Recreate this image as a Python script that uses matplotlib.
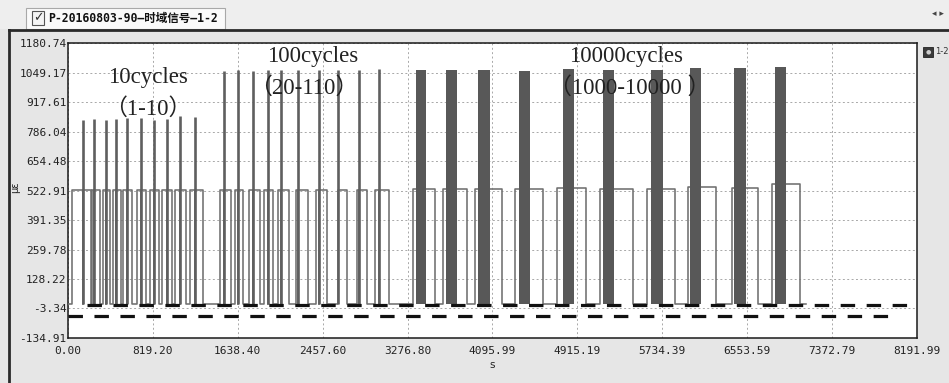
import numpy as np
import matplotlib.pyplot as plt
from matplotlib.patches import Rectangle
from matplotlib.lines import Line2D

# axis ticks as printed by the acquisition software
y_ticks = [-134.91, -3.34, 128.22, 259.78, 391.35, 522.91, 654.48, 786.04, 917.61, 1049.17, 1180.74]
x_ticks = [0.00, 819.20, 1638.40, 2457.60, 3276.80, 4095.99, 4915.19, 5734.39, 6553.59, 7372.79, 8191.99]

base_level = 18
high_level = 523
trace_end = 7120

# 10 cycles group: block rise / spike / fall times (s) and spike peaks (με)
g1_rise = [41, 234, 335, 431, 533, 668, 791, 903, 1032, 1177]
g1_spike = [141, 248, 364, 463, 566, 704, 830, 951, 1081, 1228]
g1_fall = [220, 309, 405, 511, 620, 752, 881, 1003, 1136, 1300]
g1_peak = [838, 840, 838, 840, 845, 845, 838, 840, 855, 850]

# 100 cycles group
g2_rise = [1467, 1611, 1749, 1894, 2023, 2200, 2393, 2602, 2786, 2962]
g2_spike = [1505, 1643, 1782, 1927, 2055, 2216, 2425, 2608, 2805, 3001]
g2_fall = [1573, 1692, 1853, 1981, 2132, 2319, 2502, 2689, 2882, 3097]
g2_peak = [1058, 1060, 1058, 1062, 1060, 1062, 1060, 1062, 1060, 1065]

# 10000 cycles group: block rise, dense band start/end, fall, band top, plateau
g3_rise = [3326, 3621, 3930, 4313, 4715, 5133, 5584, 5985, 6404, 6790]
g3_band_start = [3358, 3648, 3956, 4352, 4776, 5159, 5626, 6002, 6426, 6819]
g3_band_end = [3454, 3754, 4072, 4458, 4882, 5269, 5739, 6108, 6542, 6925]
g3_fall = [3541, 3847, 4185, 4580, 4998, 5449, 5857, 6252, 6661, 7063]
g3_top = [1060, 1060, 1060, 1058, 1067, 1060, 1062, 1070, 1068, 1072]
g3_plateau = [530, 528, 528, 528, 535, 530, 528, 540, 532, 550]

# thick dashed reference lines: level, start, end
ref_levels = [12, -37]
ref_start = [183, 0]
ref_end = [8191.99, 7999]

# annotations
labels = ["10cycles", "\uff081-10\uff09", "100cycles", "\uff0820-110\uff09",
          "10000cycles", "\uff081000-10000 \uff09"]
label_x = [772, 772, 2364, 2277, 5384, 5423]
label_y = [1028, 885, 1122, 979, 1122, 979]

W, H = 949, 383
def fx(px):
    return px / W
def fy(py):
    return 1 - py / H

# build the step trace (spikes drawn separately, thicker)
rises = g1_rise + g2_rise
spikes = g1_spike + g2_spike
falls = g1_fall + g2_fall
peaks = g1_peak + g2_peak

tt = [0]
vv = [base_level]
for r, s, f in zip(rises, spikes, falls):
    tt += [r, r, s, s, s, f, f]
    vv += [base_level, high_level, high_level, base_level, high_level, high_level, base_level]
for r, f, p in zip(g3_rise, g3_fall, g3_plateau):
    tt += [r, r, f, f]
    vv += [base_level, p, p, base_level]
tt.append(trace_end)
vv.append(base_level)

fig = plt.figure(figsize=(W / 100, H / 100), dpi=100)
fig.patch.set_facecolor('#e6e6e6')

# window chrome
fig.add_artist(Rectangle((0, fy(29)), 1, 1 - fy(29), transform=fig.transFigure,
                         facecolor='#eeeeee', edgecolor='none', zorder=0))
fig.add_artist(Rectangle((fx(26), fy(29)), fx(199), 21 / H, transform=fig.transFigure,
                         facecolor='#fafafa', edgecolor='#a8a8a8', lw=0.8, zorder=1))
fig.add_artist(Line2D([fx(9), 1], [fy(30), fy(30)], transform=fig.transFigure,
                      color='#2a2a2a', lw=2, zorder=2))
fig.add_artist(Line2D([fx(9), fx(9)], [fy(30), 0], transform=fig.transFigure,
                      color='#2a2a2a', lw=2, zorder=2))
fig.add_artist(Rectangle((fx(32), fy(25)), fx(12), 14 / H, transform=fig.transFigure,
                         facecolor='#f4f4f4', edgecolor='#555555', lw=0.8, zorder=2))
fig.text(fx(38), fy(18), "\u2713", fontsize=9, color='#333333', ha='center', va='center',
         family='DejaVu Sans', zorder=3)
fig.text(fx(48), fy(18), "P-20160803-90\u2014\u65f6\u57df\u4fe1\u53f7\u20141-2", fontsize=8.3,
         fontweight='bold', ha='left', va='center', color='#111111',
         family=['DejaVu Sans Mono', 'Noto Sans CJK SC'])
fig.text(fx(932), fy(14), "\u25c2 \u25b8", fontsize=6.5, ha='left', va='center',
         color='#444444', family='DejaVu Sans')
fig.add_artist(Rectangle((fx(923), fy(57)), fx(10), 10 / H, transform=fig.transFigure,
                         facecolor='#3a3a3a', edgecolor='#222222', lw=0.6, zorder=2))
fig.text(fx(928), fy(52), "\u25cf", fontsize=4.5, ha='center', va='center',
         color='#cfcfcf', family='DejaVu Sans', zorder=3)
fig.text(fx(935), fy(52), "1-2", fontsize=6, ha='left', va='center', color='#333333')

ax = fig.add_axes([fx(68), fy(338), fx(917) - fx(68), fy(43) - fy(338)])
ax.set_facecolor('white')
ax.set_xlim(x_ticks[0], x_ticks[-1])
ax.set_ylim(y_ticks[0], y_ticks[-1])

ax.grid(True, color='#a8a8a8', linestyle=(0, (2, 2.5)), lw=0.7)
ax.set_axisbelow(True)

ax.plot(tt, vv, color='#707070', lw=1.15, zorder=3)
ax.vlines(spikes, base_level, peaks, color='#5f5f5f', lw=1.9, zorder=3)
ax.bar(np.array(g3_band_start), np.array(g3_top) - base_level,
       width=np.array(g3_band_end) - np.array(g3_band_start),
       bottom=base_level, align='edge', color='#585858', edgecolor='none', zorder=4)

plt.rcParams['lines.scale_dashes'] = False
for lv, a, b in zip(ref_levels, ref_start, ref_end):
    ax.plot([a, b], [lv, lv], color='#111111', lw=2.3, linestyle=(0, (10.4, 8.3)),
            solid_capstyle='butt', dash_capstyle='butt', zorder=5)

for s, x, y in zip(labels, label_x, label_y):
    ax.text(x, y, s, fontsize=16.5, ha='center', va='center', color='#222222',
            family=['Liberation Serif', 'Noto Sans CJK SC'], zorder=6)

ax.set_xticks(x_ticks)
ax.set_xticklabels(["%.2f" % v for v in x_ticks])
ax.set_yticks(y_ticks)
ax.set_yticklabels(["%.2f" % v for v in y_ticks])
ax.tick_params(axis='both', length=0, labelsize=8, labelcolor='#222222')
for lab in ax.get_xticklabels() + ax.get_yticklabels():
    lab.set_family('DejaVu Sans Mono')
ax.tick_params(axis='y', pad=1)
ax.tick_params(axis='x', pad=6)
for sp in ax.spines.values():
    sp.set_color('#1a1a1a')
    sp.set_linewidth(1.1)

ax.set_xlabel("s", fontsize=7.5, labelpad=3, color='#222222')
ax.set_ylabel("\u03bc\u03b5", fontsize=7, color='#222222')
ax.yaxis.set_label_coords((20 - 68) / 849, 0.51)

fig.savefig("out.png", dpi=100, facecolor=fig.get_facecolor())
